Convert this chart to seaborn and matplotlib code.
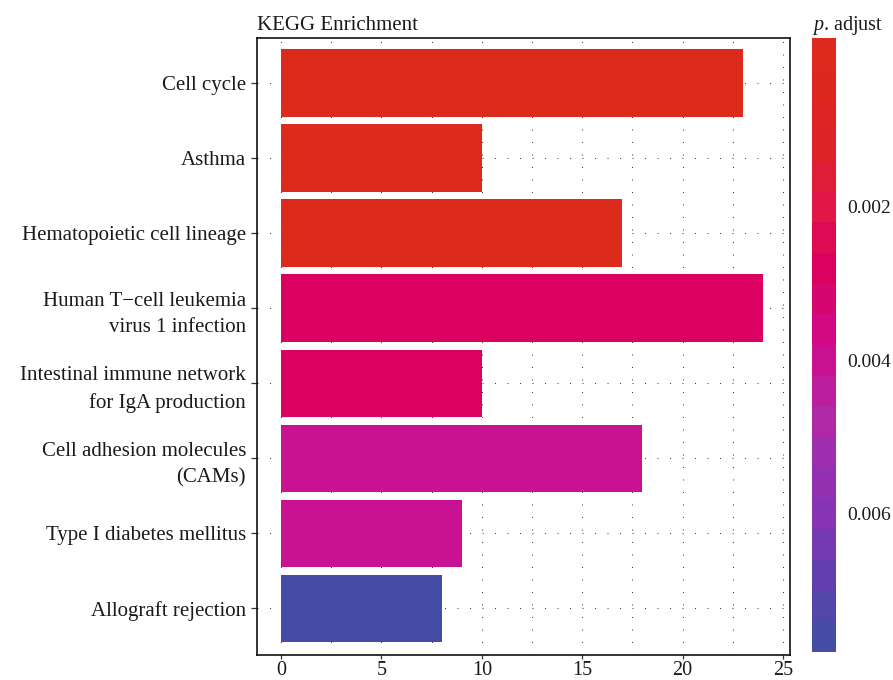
import numpy as np
import pandas as pd
import matplotlib
matplotlib.use("Agg")
import matplotlib.pyplot as plt
from matplotlib.colors import LinearSegmentedColormap, Normalize
from matplotlib.cm import ScalarMappable
import seaborn as sns

# KEGG pathways (top to bottom), gene counts and adjusted p-values
pathways = [
    "Cell cycle",
    "Asthma",
    "Hematopoietic cell lineage",
    "Human T\u2212cell leukemia\nvirus 1 infection",
    "Intestinal immune network\nfor IgA production",
    "Cell adhesion molecules\n(CAMs)",
    "Type I diabetes mellitus",
    "Allograft rejection",
]
counts = [23, 10, 17, 24, 10, 18, 9, 8]
p_adjust = [0.000005, 0.00012, 0.00015, 0.0028, 0.0028, 0.0040, 0.0040, 0.0078]

x_ticks = [0, 5, 10, 15, 20, 25]
cbar_ticks = [0.002, 0.004, 0.006]
cbar_limits = (-0.0002, 0.0078)

sns.set_theme(style="white")
plt.rcParams["font.family"] = ["Liberation Serif", "DejaVu Serif"]
plt.rcParams["mathtext.fontset"] = "custom"
plt.rcParams["mathtext.it"] = "Liberation Serif:italic"

# red -> crimson -> magenta -> purple -> blue, binned into 20 steps
anchor_pos = [0.0, 0.15, 0.275, 0.35, 0.45, 0.5, 0.6, 0.7, 0.8, 0.9, 1.0]
anchor_col = ["#DC2A1C", "#DE2426", "#E0164A", "#DC005A", "#D4087A", "#CF0A8E",
              "#B825A0", "#9A30B2", "#8435B5", "#6040AE", "#454CA5"]
cmap = LinearSegmentedColormap.from_list("padj", list(zip(anchor_pos, anchor_col)), N=20)
norm = Normalize(vmin=cbar_limits[0], vmax=cbar_limits[1])

df = pd.DataFrame({"Description": pathways, "Count": counts, "p.adjust": p_adjust})
palette = {d: cmap(norm(p)) for d, p in zip(pathways, p_adjust)}

fig = plt.figure(figsize=(8.93, 6.80), dpi=100)
ax = fig.add_axes([257 / 893, 1 - 655 / 680, (790 - 257) / 893, (655 - 38) / 680])

sns.barplot(data=df, y="Description", x="Count", hue="Description", palette=palette,
            order=pathways, hue_order=pathways, orient="h", width=0.9,
            saturation=1, legend=False, ax=ax, linewidth=0)

ax.set_xlim(-1.2, 25.35)
ax.set_ylim(len(pathways) - 1 + 0.62, -0.6)
ax.set_xticks(x_ticks)
ax.set_xticks([2.5, 7.5, 12.5, 17.5, 22.5], minor=True)
ax.set_xlabel("")
ax.set_ylabel("")

dot = (0, (1, 11))
ax.set_axisbelow(True)
ax.grid(True, which="major", axis="both", color="#444444", linestyle=dot, linewidth=0.75)
ax.grid(True, which="minor", axis="x", color="#444444", linestyle=dot, linewidth=0.75)

for s in ax.spines.values():
    s.set_visible(True)
    s.set_color("#111111")
    s.set_linewidth(1.2)

ax.tick_params(axis="y", which="major", direction="out", length=4, width=0.9,
               color="#333333", labelsize=15, labelcolor="#1a1a1a", pad=4, left=True)
ax.tick_params(axis="x", which="major", direction="out", length=3, width=0.9,
               color="#333333", labelsize=14.5, labelcolor="#1a1a1a", pad=1, bottom=True)
ax.tick_params(axis="x", which="minor", length=0)
for lbl in ax.get_yticklabels():
    lbl.set_linespacing(1.5)

ax.set_title("KEGG Enrichment", loc="left", fontsize=15, color="#1a1a1a", pad=6)

# colour bar for adjusted p-value
cax = fig.add_axes([812 / 893, 1 - 652 / 680, 24 / 893, 614 / 680])
sm = ScalarMappable(norm=norm, cmap=cmap)
cb = fig.colorbar(sm, cax=cax, ticks=cbar_ticks)
cb.outline.set_visible(False)
cax.invert_yaxis()
cax.set_yticklabels([f"{t:.3f}" for t in cbar_ticks])
cax.tick_params(axis="y", which="both", direction="in", length=5, width=1,
                color="white", labelcolor="#1a1a1a", labelsize=14,
                left=True, right=True, labelleft=False, labelright=True, pad=8)
cax.minorticks_off()
cax.set_title(r"$\it{p}$. adjust", fontsize=14.5, color="#1a1a1a", loc="left", pad=6)

fig.savefig("out.png", dpi=100)
